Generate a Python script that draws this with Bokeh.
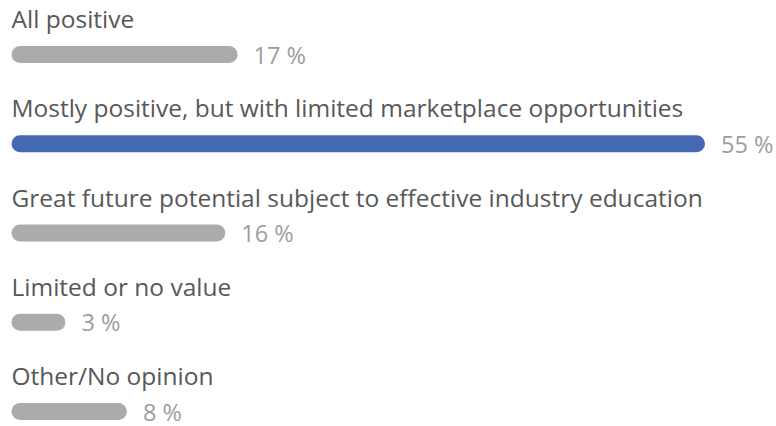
from bokeh.plotting import figure
from bokeh.models import Range1d, ColumnDataSource
from bokeh.core.properties import value
from bokeh.embed import file_html
from bokeh.resources import INLINE

categories = [
    "All positive",
    "Mostly positive, but with limited marketplace opportunities",
    "Great future potential subject to effective industry education",
    "Limited or no value",
    "Other/No opinion",
]
percentages = [17, 55, 16, 3, 8]
highlight = [False, True, False, False, False]

GRAY = "#ababab"
BLUE = "#4568b2"

W, H = 776, 426
px_per_pct = 12.3
x0_px = 19.5   # frame px of zero (cap start = x0_px - 8.5)
row_px = 89.25
first_px = 54.0
label_up = 36.0
n = len(categories)

rows = list(range(n))
src = ColumnDataSource(dict(
    y=rows,
    ylab=[r - label_up / row_px for r in rows],
    x0=[0] * n,
    x1=percentages,
    cat=categories,
    val=[f"{v} %" for v in percentages],
    color=[BLUE if h else GRAY for h in highlight],
))

p = figure(width=W, height=H, output_backend="svg", toolbar_location=None,
           min_border=0, outline_line_color=None,
           x_range=Range1d(-x0_px / px_per_pct, (W - x0_px) / px_per_pct),
           y_range=Range1d((H - first_px) / row_px, -first_px / row_px))
p.axis.visible = False
p.grid.visible = False
p.background_fill_color = "white"
p.border_fill_color = "white"

p.segment(x0="x0", y0="y", x1="x1", y1="y", source=src, line_color="color",
          line_width=17, line_cap="round")

p.text(x=-8.5 / px_per_pct, y="ylab", text="cat", source=src,
       text_font=value("Open Sans"), text_font_size="24.5px",
       text_color="#585858", text_baseline="middle", text_align="left")

p.text(x="x1", y="y", text="val", source=src, x_offset=24.5,
       text_font=value("Open Sans"), text_font_size="23.5px",
       text_color="#9d9d9d", text_baseline="middle", text_align="left")

open("out.html", "w").write(file_html(p, INLINE))
